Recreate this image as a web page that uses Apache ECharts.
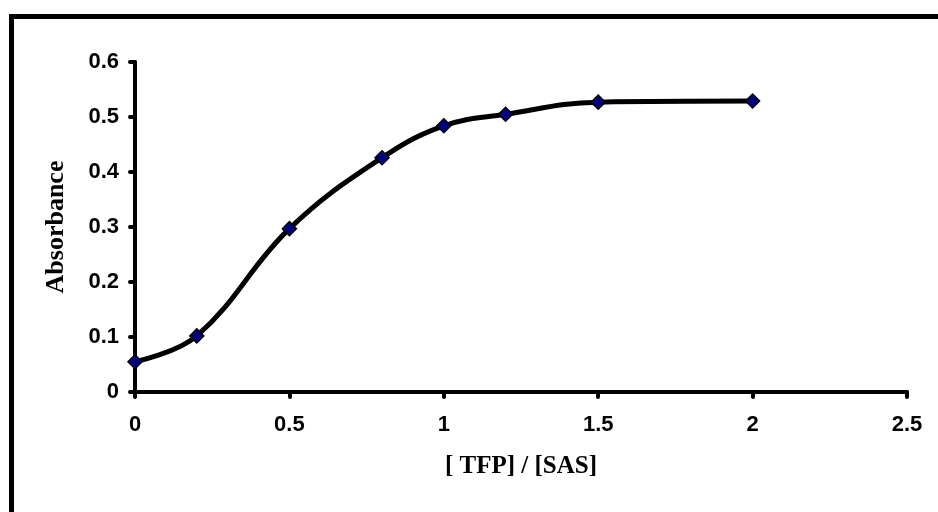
<!DOCTYPE html>
<html>
<head>
<meta charset="utf-8">
<script src="https://cdn.jsdelivr.net/npm/echarts@6/dist/echarts.min.js"></script>
<style>
  html, body { margin: 0; padding: 0; background: #fff; }
  #chart { width: 938px; height: 512px; }
</style>
</head>
<body>
<div id="chart"></div>
<script>
// ratio [TFP]/[SAS] vs absorbance
var ratio = [0, 0.2, 0.5, 0.8, 1, 1.2, 1.5, 2];
var absorbance = [0.055, 0.102, 0.297, 0.426, 0.484, 0.505, 0.527, 0.529];

var chart = echarts.init(document.getElementById('chart'));

var tickLabel = {
  color: '#000',
  fontFamily: 'Liberation Sans, Arial, sans-serif',
  fontWeight: 'bold',
  fontSize: 22
};
var axisLine = { show: true, lineStyle: { color: '#000', width: 4, cap: 'round' } };
var axisTick = { show: true, inside: false, length: 5, lineStyle: { color: '#000', width: 4, cap: 'round' } };

var option = {
  animation: false,
  backgroundColor: '#fff',
  grid: { left: 135, right: 31, top: 62, bottom: 120 },
  graphic: [
    // frame: top and left edges only
    { type: 'rect', left: 9, top: 14, shape: { width: 929, height: 5 }, style: { fill: '#000' } },
    { type: 'rect', left: 9, top: 14, shape: { width: 5, height: 498 }, style: { fill: '#000' } }
  ],
  xAxis: {
    type: 'value',
    min: 0, max: 2.5, interval: 0.5,
    name: '[ TFP] / [SAS]',
    nameLocation: 'middle',
    nameGap: 62,
    nameTextStyle: { color: '#000', fontFamily: 'Liberation Serif, Times New Roman, serif', fontWeight: 'bold', fontSize: 25 },
    axisLine: axisLine,
    axisTick: axisTick,
    axisLabel: Object.assign({ margin: 22 }, tickLabel),
    splitLine: { show: false }
  },
  yAxis: {
    type: 'value',
    min: 0, max: 0.6, interval: 0.1,
    name: 'Absorbance',
    nameLocation: 'middle',
    nameGap: 66,
    nameTextStyle: { color: '#000', fontFamily: 'Liberation Serif, Times New Roman, serif', fontWeight: 'bold', fontSize: 26 },
    axisLine: axisLine,
    axisTick: axisTick,
    axisLabel: Object.assign({ margin: 16 }, tickLabel),
    splitLine: { show: false }
  },
  series: [{
    type: 'line',
    data: ratio.map(function (x, i) { return [x, absorbance[i]]; }),
    smooth: 0.4,
    symbol: 'diamond',
    symbolSize: 14,
    lineStyle: { color: '#000', width: 5 },
    itemStyle: { color: '#000080', borderColor: '#000', borderWidth: 1.5 },
    z: 3
  }]
};

chart.setOption(option);
</script>
</body>
</html>
